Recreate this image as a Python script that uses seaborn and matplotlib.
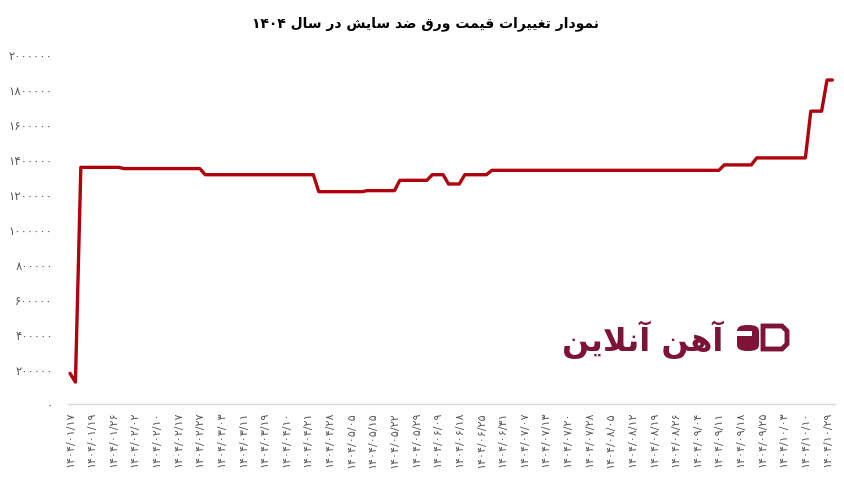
import re
import matplotlib
matplotlib.use("Agg")
import matplotlib.pyplot as plt
import seaborn as sns
from matplotlib.ticker import FuncFormatter
from matplotlib.patches import FancyBboxPatch, Polygon, Rectangle

# price entries (entry number, price in rial)
# only the entries where the line bends are kept, the line is straight between them
point_idx = [0, 1, 2, 9, 10, 24, 25, 45, 46, 54, 55, 60, 61, 66, 67, 69, 70,
             72, 73, 77, 78, 120, 121, 126, 127, 136, 137, 139, 140, 141]
price = [175000, 125000, 1352000, 1352000, 1345000, 1345000, 1310000, 1310000,
         1213000, 1213000, 1219000, 1219000, 1278000, 1278000, 1310000, 1310000,
         1257000, 1257000, 1310000, 1310000, 1335000, 1335000, 1366000, 1366000,
         1406000, 1406000, 1673000, 1673000, 1851000, 1851000]

# date label shown under every 4th entry
date_labels = ["۱۴۰۴/۰۱/۱۷", "۱۴۰۴/۰۱/۱۹", "۱۴۰۴/۰۱/۲۶", "۱۴۰۴/۰۲/۰۲",
               "۱۴۰۴/۰۲/۱۰", "۱۴۰۴/۰۲/۱۷", "۱۴۰۴/۰۲/۲۷", "۱۴۰۴/۰۳/۰۳",
               "۱۴۰۴/۰۳/۱۱", "۱۴۰۴/۰۳/۱۹", "۱۴۰۴/۰۴/۱۰", "۱۴۰۴/۰۴/۲۱",
               "۱۴۰۴/۰۴/۲۸", "۱۴۰۴/۰۵/۰۵", "۱۴۰۴/۰۵/۱۵", "۱۴۰۴/۰۵/۲۲",
               "۱۴۰۴/۰۵/۲۹", "۱۴۰۴/۰۶/۰۹", "۱۴۰۴/۰۶/۱۸", "۱۴۰۴/۰۶/۲۵",
               "۱۴۰۴/۰۶/۳۱", "۱۴۰۴/۰۷/۰۷", "۱۴۰۴/۰۷/۱۳", "۱۴۰۴/۰۷/۲۰",
               "۱۴۰۴/۰۷/۲۸", "۱۴۰۴/۰۸/۰۵", "۱۴۰۴/۰۸/۱۲", "۱۴۰۴/۰۸/۱۹",
               "۱۴۰۴/۰۸/۲۶", "۱۴۰۴/۰۹/۰۴", "۱۴۰۴/۰۹/۱۱", "۱۴۰۴/۰۹/۱۸",
               "۱۴۰۴/۰۹/۲۵", "۱۴۰۴/۱۰/۰۳", "۱۴۰۴/۱۰/۱۰", "۱۴۰۴/۱۰/۲۹"]
label_step = 4

title_text = "نمودار تغییرات قیمت ورق ضد سایش در سال ۱۴۰۴"
logo_text = "آهن آنلاین"

# matplotlib has no arabic shaping, so pick the joined glyph forms by hand
# (isolated, final, initial, medial)
FORMS = {
    'ا': ('\uFE8D', '\uFE8E', None, None),
    'آ': ('\uFE81', '\uFE82', None, None),
    'د': ('\uFEA9', '\uFEAA', None, None),
    'ر': ('\uFEAD', '\uFEAE', None, None),
    'و': ('\uFEED', '\uFEEE', None, None),
    'ن': ('\uFEE5', '\uFEE6', '\uFEE7', '\uFEE8'),
    'م': ('\uFEE1', '\uFEE2', '\uFEE3', '\uFEE4'),
    'ت': ('\uFE95', '\uFE96', '\uFE97', '\uFE98'),
    'غ': ('\uFECD', '\uFECE', '\uFECF', '\uFED0'),
    'ی': ('\uFBFC', '\uFBFD', '\uFBFE', '\uFBFF'),
    'ق': ('\uFED5', '\uFED6', '\uFED7', '\uFED8'),
    'ض': ('\uFEBD', '\uFEBE', '\uFEBF', '\uFEC0'),
    'س': ('\uFEB1', '\uFEB2', '\uFEB3', '\uFEB4'),
    'ش': ('\uFEB5', '\uFEB6', '\uFEB7', '\uFEB8'),
    'ل': ('\uFEDD', '\uFEDE', '\uFEDF', '\uFEE0'),
    'ه': ('\uFEE9', '\uFEEA', '\uFEEB', '\uFEEC'),
    'لا': ('\uFEFB', '\uFEFC', None, None),
    'لآ': ('\uFEF5', '\uFEF6', None, None),
}


def shape(text):
    # lam + alef becomes one ligature
    chars = []
    i = 0
    while i < len(text):
        if text[i] == 'ل' and i + 1 < len(text) and text[i + 1] in 'اآ':
            chars.append(text[i:i + 2])
            i += 2
        else:
            chars.append(text[i])
            i += 1
    out = []
    for i, c in enumerate(chars):
        if c not in FORMS:
            out.append(c)
            continue
        prev = chars[i - 1] if i > 0 else None
        nxt = chars[i + 1] if i + 1 < len(chars) else None
        join_prev = prev in FORMS and FORMS[prev][2] is not None
        join_next = nxt in FORMS and FORMS[c][2] is not None
        if join_prev and join_next:
            out.append(FORMS[c][3])
        elif join_prev:
            out.append(FORMS[c][1])
        elif join_next:
            out.append(FORMS[c][2])
        else:
            out.append(FORMS[c][0])
    # right to left: reverse, but keep the numbers left to right
    visual = ''.join(out)[::-1]
    return re.sub(r'[۰-۹]+', lambda m: m.group()[::-1], visual)


fa_digits = str.maketrans("0123456789", "۰۱۲۳۴۵۶۷۸۹")

sns.set_style("white")
plt.rcParams['font.family'] = ['DejaVu Sans']

fig = plt.figure(figsize=(8.45, 4.85), dpi=100)
ax = fig.add_axes([0.0805, 0.165, 0.9075, 0.7217])

sns.lineplot(x=point_idx, y=price, ax=ax, color="#B0000C", linewidth=2.4)

ax.set_xlim(-0.37, 141.45)
ax.set_ylim(0, 2000000)
ax.set_yticks(range(0, 2000001, 200000))
ax.yaxis.set_major_formatter(FuncFormatter(lambda v, p: str(int(v)).translate(fa_digits)))
ax.set_xticks(range(0, len(date_labels) * label_step, label_step))
ax.set_xticklabels(date_labels, rotation=90)

ax.tick_params(axis='both', length=0, colors='#595959')
ax.tick_params(axis='x', pad=5, labelsize=8)
ax.tick_params(axis='y', pad=11, labelsize=8.5)
for s in ['left', 'top', 'right']:
    ax.spines[s].set_visible(False)
ax.spines['bottom'].set_color('#D9D9D9')
ax.spines['bottom'].set_linewidth(1)
ax.grid(False)
ax.set_xlabel('')
ax.set_ylabel('')

fig.text(0.503, 1 - 24 / 485, shape(title_text), ha='center', va='center',
         fontsize=10, fontweight='bold', color='black')

# logo watermark
logo_col = '#7D1437'
fig.text(643 / 845, 1 - 340 / 485, shape(logo_text), ha='center', va='center',
         fontsize=23, fontweight='bold', color=logo_col)
W, H = 845, 485
fig.add_artist(FancyBboxPatch((737 / W, 1 - 352 / H), 22 / W, 26 / H,
                              boxstyle='round,pad=0,rounding_size=0.012',
                              transform=fig.transFigure, facecolor=logo_col,
                              edgecolor='none'))
fig.add_artist(Rectangle((737 / W, 1 - 337 / H), 15 / W, 5 / H,
                         transform=fig.transFigure, facecolor='white', edgecolor='none'))
fig.add_artist(Polygon([(763 / W, 1 - 327 / H), (782 / W, 1 - 327 / H), (787 / W, 1 - 332 / H),
                        (787 / W, 1 - 345 / H), (782 / W, 1 - 350 / H), (763 / W, 1 - 350 / H)],
                       closed=True, transform=fig.transFigure, facecolor='white',
                       edgecolor=logo_col, linewidth=3.5))

fig.savefig("out.png", dpi=100)
